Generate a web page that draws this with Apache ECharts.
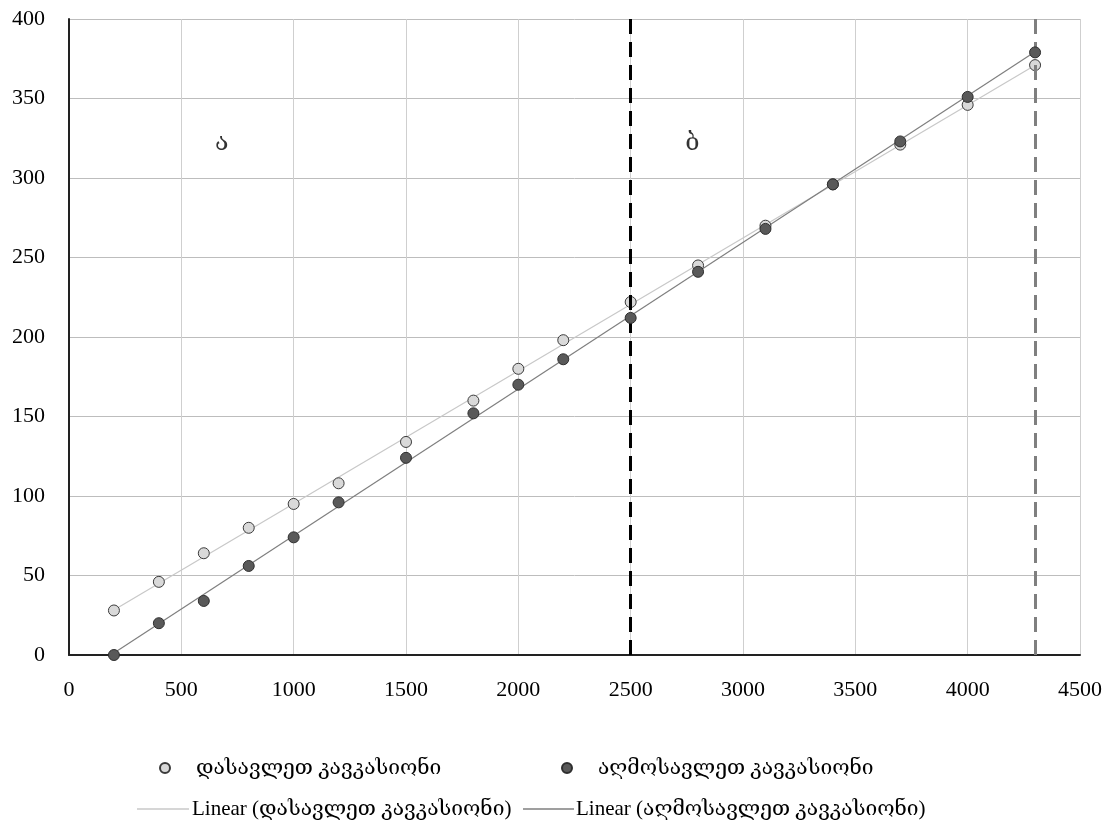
<!DOCTYPE html>
<html><head><meta charset="utf-8">
<script src="https://cdn.jsdelivr.net/npm/echarts@6/dist/echarts.min.js"></script>
<style>html,body{margin:0;padding:0;background:#fff}#c{width:1115px;height:821px}</style>
</head><body><div id="c"></div>
<script>
const xValues = [200,400,600,800,1000,1200,1500,1800,2000,2200,2500,2800,3100,3400,3700,4000,4300];
const westValues = [28,46,64,80,95,108,134,160,180,198,222,245,270,296,321,346,371];
const eastValues = [0,20,34,56,74,96,124,152,170,186,212,241,268,296,323,351,379];
const westName = 'დასავლეთ კავკასიონი';
const eastName = 'აღმოსავლეთ კავკასიონი';
const zoneLines = [2500, 4300];
const zoneLabels = [[680, 322, 'ა'], [2775, 322, 'ბ']];

function fit(xs, ys) {
  const n = xs.length;
  let sx=0, sy=0, sxx=0, sxy=0;
  for (let i=0;i<n;i++){ sx+=xs[i]; sy+=ys[i]; sxx+=xs[i]*xs[i]; sxy+=xs[i]*ys[i]; }
  const b = (n*sxy - sx*sy)/(n*sxx - sx*sx);
  const a = (sy - b*sx)/n;
  const x0 = Math.min(...xs), x1 = Math.max(...xs);
  return [[x0, a+b*x0],[x1, a+b*x1]];
}
const pair = (ys) => xValues.map((x,i)=>[x, ys[i]]);
const FONT = '"Liberation Serif", "DejaVu Serif", serif';

const chart = echarts.init(document.getElementById('c'));
const baseText = {fontFamily: FONT, fontSize: 21, color: '#000', lineHeight: 24};
chart.setOption({
  animation: false,
  textStyle: {fontFamily: FONT},
  grid: {left: 69, right: 35, top: 19, bottom: 166, containLabel: false},
  xAxis: {
    type: 'value', min: 0, max: 4500, interval: 500,
    axisLine: {show: true, onZero: false, lineStyle: {color: '#222', width: 2}},
    axisTick: {show: false},
    axisLabel: {fontFamily: FONT, fontSize: 22, color: '#000', margin: 24, formatter: v => String(v)},
    splitLine: {show: true, lineStyle: {color: '#cfcfcf', width: 1}}
  },
  yAxis: {
    type: 'value', min: 0, max: 400, interval: 50,
    axisLine: {show: true, lineStyle: {color: '#222', width: 2}},
    axisTick: {show: false},
    axisLabel: {fontFamily: FONT, fontSize: 22, color: '#000', margin: 24, formatter: v => String(v)},
    splitLine: {show: true, lineStyle: {color: '#bdbdbd', width: 1}}
  },
  legend: [
    {data: [westName], left: 154, top: 751, itemWidth: 10, itemHeight: 10, icon: 'circle',
     textStyle: Object.assign({}, baseText, {padding: [0,0,0,21]})},
    {data: [eastName], left: 556, top: 751, itemWidth: 10, itemHeight: 10, icon: 'circle',
     textStyle: Object.assign({}, baseText, {padding: [0,0,0,21]})},
    {data: [{name: 'Linear (' + westName + ')', icon: 'rect'}], left: 132, top: 792, itemWidth: 52, itemHeight: 1.5,
     textStyle: Object.assign({}, baseText, {padding: [0,0,0,-2]})},
    {data: [{name: 'Linear (' + eastName + ')', icon: 'rect'}], left: 518, top: 792, itemWidth: 51, itemHeight: 1.5,
     textStyle: Object.assign({}, baseText, {padding: [0,0,0,-3]})}
  ],
  series: [
    {name: 'Linear (' + westName + ')', type: 'line', data: fit(xValues, westValues), symbol: 'none',
     lineStyle: {color: '#c8c8c8', width: 1.2}, itemStyle: {color: '#c8c8c8'}, z: 2},
    {name: 'Linear (' + eastName + ')', type: 'line', data: fit(xValues, eastValues), symbol: 'none',
     lineStyle: {color: '#7f7f7f', width: 1.2}, itemStyle: {color: '#7f7f7f'}, z: 2},
    {name: 'zones', type: 'scatter', data: zoneLabels, symbolSize: 0, silent: true, z: 1,
     label: {show: true, position: 'inside', formatter: p => p.data[2], fontFamily: FONT, fontSize: 25, color: '#000'},
     markLine: {symbol: 'none', silent: true, label: {show: false},
       data: [
         {xAxis: zoneLines[0], lineStyle: {color: '#000', width: 3, type: [15, 8]}},
         {xAxis: zoneLines[1], lineStyle: {color: '#7f7f7f', width: 3, type: [15, 8]}}
       ]}},
    {name: westName, type: 'scatter', data: pair(westValues), symbolSize: 11, z: 4,
     itemStyle: {color: '#d9d9d9', borderColor: '#3a3a3a', borderWidth: 1, opacity: 1}},
    {name: eastName, type: 'scatter', data: pair(eastValues), symbolSize: 11, z: 5,
     itemStyle: {color: '#595959', borderColor: '#2e2e2e', borderWidth: 1, opacity: 1}}
  ]
});
</script></body></html>
